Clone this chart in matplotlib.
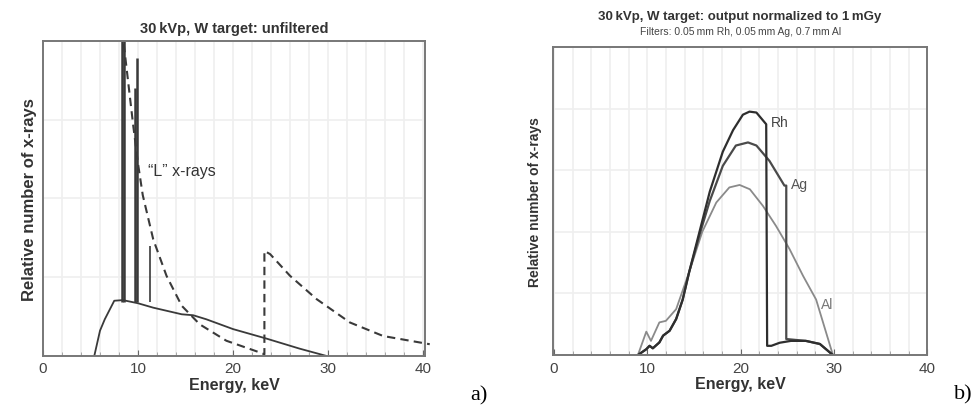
import numpy as np
import matplotlib.pyplot as plt

plt.rcParams['font.family'] = ['Liberation Sans', 'DejaVu Sans']

# panel a) unfiltered W spectrum
brems_e = [5.4, 6.0, 6.5, 7.5, 8.4, 10.0, 11.6, 14.6, 15.8, 17.2, 20.0, 23.5, 27.0, 29.8]
brems_n = [0.0, 0.08, 0.116, 0.175, 0.177, 0.167, 0.153, 0.132, 0.129, 0.116, 0.085, 0.055, 0.023, 0.0]
lines_e = [8.35, 8.5, 9.65, 9.93, 11.3]
lines_n = [1.0, 1.0, 0.85, 0.947, 0.35]
atten_e = [8.5, 9.5, 10.0, 10.5, 11.6, 13.0, 14.6, 16.5, 19.3, 22.8, 23.3, 23.3, 23.9, 26.0,
           28.8, 32.3, 35.8, 40.7]
atten_n = [0.99, 0.73, 0.61, 0.51, 0.37, 0.254, 0.159, 0.10, 0.048, 0.011, 0.005, 0.333, 0.323,
           0.254, 0.18, 0.106, 0.063, 0.037]

# panel b) filtered spectra normalized to 1 mGy
rh_e = [9.0, 9.9, 10.25, 10.6, 11.3, 11.7, 12.4, 13.1, 13.8, 14.5, 15.6, 16.7, 18.1, 19.2,
        20.25, 20.96, 21.7, 22.75, 22.85, 23.3, 24.2, 25.4, 27.0, 28.5, 29.9]
rh_n = [0.0, 0.019, 0.03, 0.022, 0.041, 0.063, 0.079, 0.117, 0.18, 0.27, 0.40, 0.53, 0.66, 0.73,
        0.78, 0.79, 0.787, 0.749, 0.03, 0.03, 0.04, 0.046, 0.046, 0.036, 0.0]
ag_e = [9.0, 9.9, 10.25, 10.6, 11.3, 11.7, 12.4, 13.1, 13.8, 14.5, 15.6, 16.7, 18.1, 19.5,
        20.8, 21.7, 23.1, 24.7, 24.9, 24.9, 27.0, 28.5, 29.9]
ag_n = [0.0, 0.019, 0.03, 0.022, 0.041, 0.063, 0.079, 0.117, 0.18, 0.27, 0.39, 0.50, 0.614, 0.68,
        0.69, 0.68, 0.63, 0.55, 0.55, 0.052, 0.046, 0.036, 0.0]
al_e = [9.0, 9.9, 10.4, 11.3, 12.0, 13.1, 14.5, 15.9, 17.4, 18.8, 19.9, 21.0, 22.4, 23.8,
        25.25, 26.7, 28.1, 29.9]
al_n = [0.0, 0.076, 0.046, 0.106, 0.111, 0.149, 0.27, 0.40, 0.495, 0.544, 0.552, 0.538, 0.484,
        0.419, 0.344, 0.257, 0.18, 0.0]

dark = '#3a3a3a'
grid = '#efefef'

fig = plt.figure(figsize=(9.77, 4.06), dpi=100)
ax1 = fig.add_axes([0.044, 0.121, 0.391, 0.776])
ax2 = fig.add_axes([0.566, 0.123, 0.383, 0.759])

for ax in (ax1, ax2):
    ax.set_xticks(np.arange(0, 41, 10))
    ax.set_xticks(np.arange(0, 41, 2), minor=True)
    ax.set_yticks([])
    ax.grid(True, which='both', axis='x', color=grid, lw=1.2)
    ax.tick_params(axis='x', which='major', direction='in', colors='#666', labelsize=11,
                   length=4, pad=4)
    ax.tick_params(axis='x', which='minor', direction='in', colors='#999', length=3)
    ax.tick_params(axis='x', labelcolor='#444')
    for s in ax.spines.values():
        s.set_color('#777')
        s.set_linewidth(1.4)
    ax.set_xlabel('Energy, keV', fontsize=11.5, fontweight='bold', color='#333', labelpad=1)
    ax.set_axisbelow(True)

ax1.set_ylabel('Relative number of x-rays', fontsize=12, fontweight='bold', color='#333')
ax2.set_ylabel('Relative number of x-rays', fontsize=10, fontweight='bold', color='#333',
               labelpad=8)

# panel a
ax1.set_xlim(0, 40.2)
ax1.set_ylim(0, 1)
for y in [0.25, 0.5, 0.75]:
    ax1.axhline(y, color=grid, lw=1.2, zorder=0)
ax1.plot(brems_e, brems_n, color=dark, lw=1.3)
for e, n in zip(lines_e, lines_n):
    ax1.vlines(e, 0.17, n, color=dark, lw=1.8 if n > 0.5 else 1.2)
ax1.plot(atten_e, atten_n, color=dark, lw=1.5, ls=(0, (4, 2.5)), clip_on=False)
ax1.text(11.1, 0.587, '\u201cL\u201d x-rays', fontsize=11.5, color='#333', va='center')
ax1.set_title('30\u2009kVp, W target: unfiltered', fontsize=10.5, fontweight='bold',
              color='#333', pad=6)

# panel b
ax2.set_xlim(-0.1, 40)
ax2.set_ylim(0, 1)
for y in [0.2, 0.4, 0.6, 0.8]:
    ax2.axhline(y, color=grid, lw=1.2, zorder=0)
ax2.plot(al_e, al_n, color='#8a8a8a', lw=1.3)
ax2.plot(ag_e, ag_n, color='#4a4a4a', lw=1.6)
ax2.plot(rh_e, rh_n, color='#2e2e2e', lw=1.6)
ax2.text(23.3, 0.757, 'Rh', fontsize=10, color='#444', va='center')
ax2.text(25.4, 0.555, 'Ag', fontsize=10, color='#555', va='center')
ax2.text(28.6, 0.166, 'Al', fontsize=10, color='#777', va='center')
fig.text(0.7575, 0.958, '30\u2009kVp, W target: output normalized to 1\u2009mGy', ha='center',
         va='center', fontsize=9.5, fontweight='bold', color='#333')
fig.text(0.7575, 0.921, 'Filters: 0.05\u2009mm Rh, 0.05\u2009mm Ag, 0.7\u2009mm Al', ha='center',
         va='center', fontsize=7.5, color='#444')

fig.text(0.490, 0.026, 'a)', fontsize=16, family='Liberation Serif', ha='center', va='center')
fig.text(0.986, 0.028, 'b)', fontsize=16, family='Liberation Serif', ha='center', va='center')

fig.savefig('out.png', dpi=100)
